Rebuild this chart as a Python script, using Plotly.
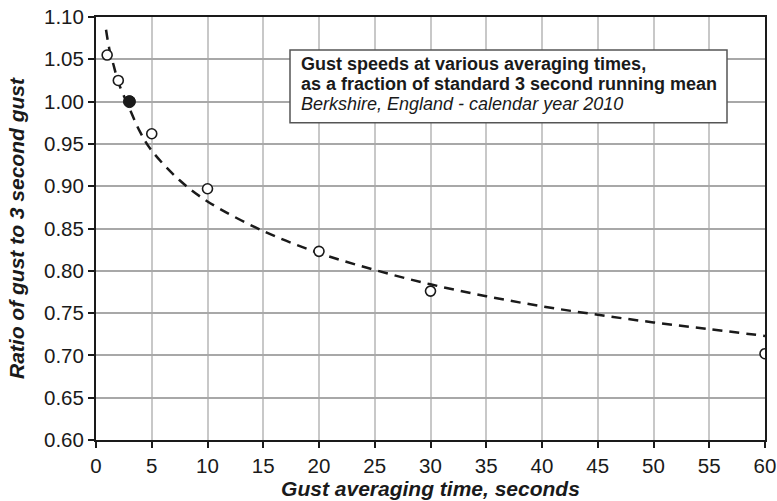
import plotly.graph_objects as go

# Measured gust ratios (relative to the 3 s running-mean gust)
avg_time_s = [1, 2, 3, 5, 10, 20, 30, 60]
gust_ratio = [1.055, 1.025, 1.000, 0.962, 0.897, 0.823, 0.776, 0.702]

# Reference point: the standard 3 second gust
ref_time_s = [3]
ref_ratio = [1.000]

# Fitted trend curve through the measurements
trend_time_s = [0.9, 1.2, 1.6, 2, 3, 4, 5, 7.5, 10, 15, 20, 25, 30, 35, 40, 45, 50, 55, 60]
trend_ratio = [1.085, 1.062, 1.042, 1.023, 0.992, 0.963, 0.942, 0.907, 0.882, 0.847,
               0.821, 0.801, 0.784, 0.770, 0.758, 0.748, 0.739, 0.731, 0.723]

# Caption lines shown in the boxed note
note_lines = [
    "<b>Gust speeds at various averaging times,</b>",
    "<b>as a fraction of standard 3 second running mean</b>",
    "<i>Berkshire, England - calendar year 2010</i>",
]

font_family = "Liberation Sans, Arial, Helvetica, sans-serif"
ink = "#1a1a1a"

# plot-area geometry in pixels (used to place the note box in paper units)
W, H = 777, 501
L, R, T, B = 96, 12, 17, 61
pw, ph = W - L - R, H - T - B


def px_x(x):
    return (x - L) / pw


def px_y(y):
    return (H - B - y) / ph


fig = go.Figure()

fig.add_trace(go.Scatter(
    x=trend_time_s, y=trend_ratio, mode="lines", line_shape="spline",
    line=dict(color=ink, width=2.5, dash="10px,7px"),
    hoverinfo="skip", showlegend=False,
))

fig.add_trace(go.Scatter(
    x=avg_time_s, y=gust_ratio, mode="markers",
    marker=dict(symbol="circle", size=10, color="white",
                line=dict(color=ink, width=1.6)),
    showlegend=False,
))

fig.add_trace(go.Scatter(
    x=ref_time_s, y=ref_ratio, mode="markers",
    marker=dict(symbol="circle", size=12, color=ink,
                line=dict(color=ink, width=1)),
    showlegend=False,
))

# boxed note
fig.add_shape(
    type="rect", xref="paper", yref="paper",
    x0=px_x(290), x1=px_x(727), y0=px_y(122.7), y1=px_y(50),
    line=dict(color="#555555", width=1.5), fillcolor="white", layer="above",
)
note_size = 18
for i, line in enumerate(note_lines):
    baseline = 70 + 20 * i
    fig.add_annotation(
        xref="paper", yref="paper", x=px_x(299), y=px_y(baseline - 0.35 * note_size),
        xanchor="left", yanchor="middle", align="left", showarrow=False,
        text=line, font=dict(family=font_family, size=note_size, color=ink),
    )

fig.update_layout(
    width=W, height=H,
    margin=dict(l=L, r=R, t=T, b=B, autoexpand=False),
    paper_bgcolor="white", plot_bgcolor="white",
    font=dict(family=font_family, color=ink),
    xaxis=dict(
        range=[0, 60], dtick=5, tick0=0,
        showgrid=True, gridcolor="#c8c8c8", gridwidth=1.5,
        showline=True, linecolor=ink, linewidth=2, mirror=True,
        ticks="outside", ticklen=6, tickwidth=1.5, tickcolor=ink,
        tickfont=dict(size=20.5, color=ink),
        zeroline=False, automargin=False,
        title=dict(text="<b><i>Gust averaging time, seconds</i></b>",
                   font=dict(size=21, color=ink), standoff=6),
    ),
    yaxis=dict(
        range=[0.6, 1.1], dtick=0.05, tick0=0.6, tickformat=".2f",
        showgrid=True, gridcolor="#a8a8a8", gridwidth=1.5,
        showline=True, linecolor=ink, linewidth=2, mirror=True,
        ticks="outside", ticklen=6, tickwidth=1.5, tickcolor=ink,
        tickfont=dict(size=20.5, color=ink),
        zeroline=False, automargin=False,
        title=dict(text="<b><i>Ratio of gust to 3 second gust</i></b>",
                   font=dict(size=21, color=ink), standoff=14),
    ),
)

fig.write_html("out.html")
